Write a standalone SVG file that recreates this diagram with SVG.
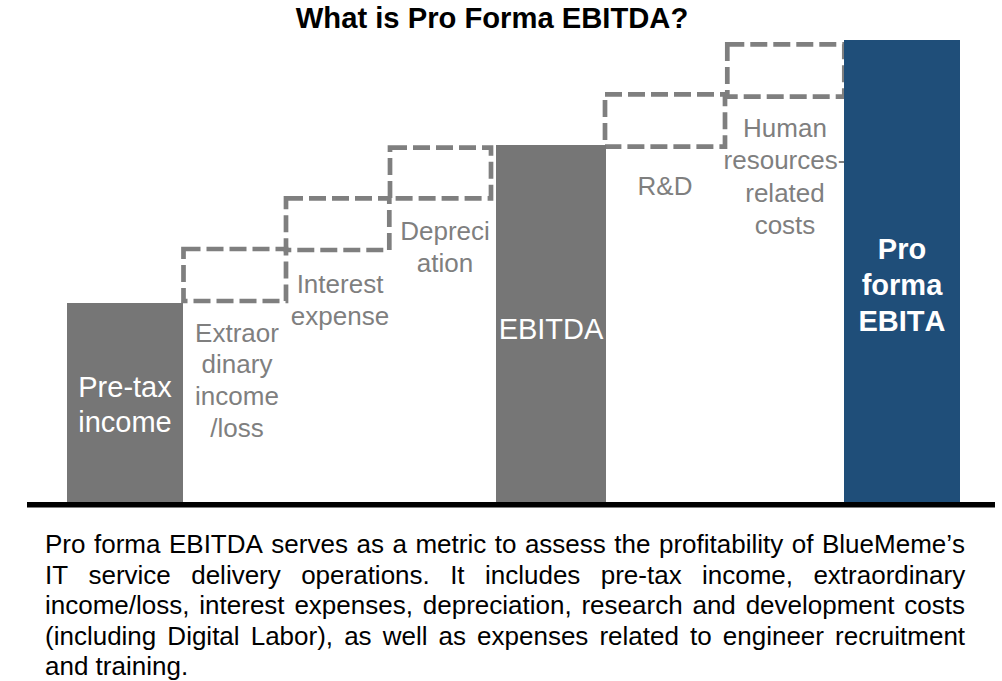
<svg xmlns="http://www.w3.org/2000/svg" width="1002" height="681" viewBox="0 0 1002 681">
  <style>
    text { font-family: "Liberation Sans", Arial, sans-serif; font-kerning: none; }
    .title { font-size: 29.2px; font-weight: bold; fill: #000; text-anchor: middle; }
    .bar-gray { fill: #767676; }
    .bar-blue { fill: #1f4e79; }
    .step { fill: none; stroke: #7f7f7f; stroke-width: 4.7; stroke-dasharray: 17 6; }
    .in-bar { font-size: 29px; fill: #fff; text-anchor: middle; }
    .in-bar-bold { font-size: 29px; font-weight: bold; fill: #fff; text-anchor: middle; }
    .step-label { font-size: 26px; fill: #7f7f7f; text-anchor: middle; }
    .body { font-size: 26px; fill: #000; }
  </style>
  <rect width="1002" height="681" fill="#fff"/>

  <text class="title" x="492" y="28">What is Pro Forma EBITDA?</text>

  <!-- dashed step boxes between the bars -->
  <g id="step-extraordinary">
    <rect class="step" x="183.5" y="249" width="102.5" height="52"/>
    <text class="step-label" x="237" y="341.7">Extraor</text>
    <text class="step-label" x="237" y="373.3">dinary</text>
    <text class="step-label" x="237" y="405">income</text>
    <text class="step-label" x="237" y="436.7">/loss</text>
  </g>
  <g id="step-interest">
    <rect class="step" x="286" y="198.3" width="103.3" height="51.7"/>
    <text class="step-label" x="340" y="293">Interest</text>
    <text class="step-label" x="340" y="325">expense</text>
  </g>
  <g id="step-depreciation">
    <rect class="step" x="390" y="147.7" width="101" height="50.6"/>
    <text class="step-label" x="445" y="239.7">Depreci</text>
    <text class="step-label" x="445" y="271.7">ation</text>
  </g>
  <g id="step-rnd">
    <rect class="step" x="605" y="94.3" width="120" height="52.4"/>
    <text class="step-label" x="665" y="195">R&amp;D</text>
  </g>
  <g id="step-hr">
    <rect class="step" x="727.3" y="44.3" width="117" height="52.4"/>
    <text class="step-label" x="785" y="136.5">Human</text>
    <text class="step-label" x="785" y="169">resources-</text>
    <text class="step-label" x="785" y="201.5">related</text>
    <text class="step-label" x="785" y="234">costs</text>
  </g>

  <!-- solid bars -->
  <g id="bar-pretax">
    <rect class="bar-gray" x="67" y="303" width="116" height="202"/>
    <text class="in-bar" x="125" y="396.7">Pre-tax</text>
    <text class="in-bar" x="125" y="431.7">income</text>
  </g>
  <g id="bar-ebitda">
    <rect class="bar-gray" x="496" y="145" width="110" height="360"/>
    <text class="in-bar" x="551" y="338.5">EBITDA</text>
  </g>
  <g id="bar-proforma">
    <rect class="bar-blue" x="844" y="40" width="116" height="465"/>
    <text class="in-bar-bold" x="902" y="259">Pro</text>
    <text class="in-bar-bold" x="902" y="295">forma</text>
    <text class="in-bar-bold" x="902" y="331">EBITA</text>
  </g>

  <!-- axis line -->
  <g id="connectors">
    <line x1="27" y1="504.8" x2="995" y2="504.8" stroke="#000" stroke-width="5.6"/>
  </g>

  <!-- justified description -->
  <g id="description">
    <text class="body" x="45" y="553" style="word-spacing:1.29px">Pro forma EBITDA serves as a metric to assess the profitability of BlueMeme’s</text>
    <text class="body" x="45" y="583.5" style="word-spacing:13.14px">IT service delivery operations. It includes pre-tax income, extraordinary</text>
    <text class="body" x="45" y="614" style="word-spacing:2.6px">income/loss, interest expenses, depreciation, research and development costs</text>
    <text class="body" x="45" y="644.5" style="word-spacing:3.85px">(including Digital Labor), as well as expenses related to engineer recruitment</text>
    <text class="body" x="45" y="675">and training.</text>
  </g>
</svg>
